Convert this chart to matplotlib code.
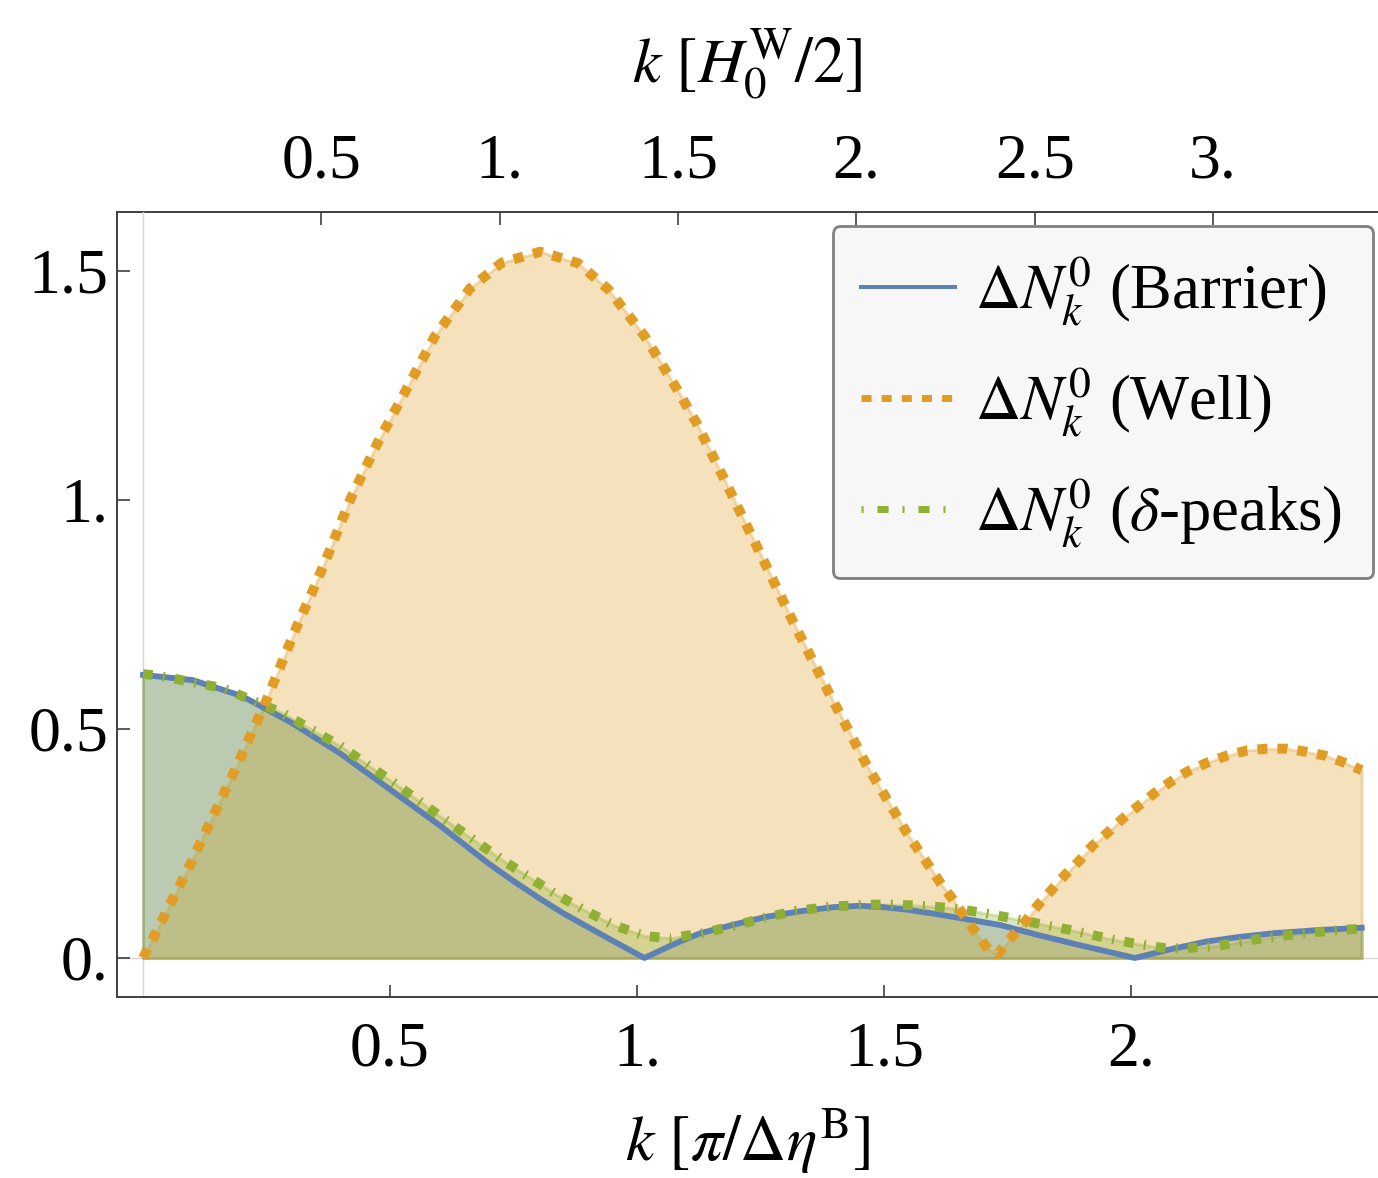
import matplotlib
matplotlib.use("Agg")
import matplotlib.pyplot as plt
from matplotlib.lines import Line2D

plt.rcParams["font.family"] = ["Liberation Serif", "DejaVu Serif"]
plt.rcParams["mathtext.fontset"] = "stix"

# Wavenumber k in units of pi / Delta eta^B, and particle number Delta N_k^0
k_barrier = [0.0, 0.10, 0.20, 0.30, 0.40, 0.50, 0.60, 0.70, 0.75, 0.80, 0.85,
             0.90, 0.95, 1.015, 1.07, 1.128, 1.20, 1.262, 1.33, 1.397, 1.45,
             1.498, 1.55, 1.599, 1.66, 1.735, 1.816, 1.90, 2.008, 2.08, 2.153,
             2.22, 2.288, 2.38, 2.467]
dn_barrier = [0.618, 0.607, 0.572, 0.514, 0.446, 0.368, 0.290, 0.206, 0.168,
              0.132, 0.098, 0.068, 0.038, 0.0, 0.028, 0.054, 0.074, 0.090,
              0.102, 0.111, 0.114, 0.111, 0.105, 0.097, 0.086, 0.072, 0.049,
              0.027, 0.0, 0.019, 0.036, 0.046, 0.054, 0.061, 0.066]

k_well = [0.0, 0.095, 0.183, 0.25, 0.311, 0.345, 0.377, 0.422, 0.476, 0.525,
          0.591, 0.662, 0.726, 0.804, 0.881, 0.942, 1.016, 1.08, 1.121, 1.175,
          1.246, 1.316, 1.389, 1.465, 1.547, 1.616, 1.64, 1.664, 1.687, 1.711,
          1.73, 1.76, 1.787, 1.812, 1.839, 1.866, 1.895, 1.922, 1.953, 1.983,
          2.015, 2.045, 2.079, 2.114, 2.153, 2.194, 2.234, 2.275, 2.315, 2.356,
          2.396, 2.433, 2.467]
dn_well = [0.0, 0.203, 0.403, 0.563, 0.723, 0.805, 0.887, 1.007, 1.127, 1.225,
           1.358, 1.462, 1.518, 1.542, 1.517, 1.460, 1.357, 1.244, 1.167, 1.049,
           0.891, 0.734, 0.578, 0.421, 0.272, 0.161, 0.127, 0.089, 0.054, 0.019,
           0.008, 0.048, 0.081, 0.116, 0.148, 0.181, 0.212, 0.245, 0.274, 0.304,
           0.332, 0.358, 0.384, 0.407, 0.426, 0.442, 0.453, 0.457, 0.457, 0.450,
           0.441, 0.426, 0.410]

k_peaks = [0.0, 0.034, 0.163, 0.284, 0.399, 0.507, 0.615, 0.726, 0.834, 0.891,
           0.952, 1.016, 1.067, 1.131, 1.195, 1.259, 1.323, 1.391, 1.455, 1.495,
           1.563, 1.627, 1.693, 1.758, 1.822, 1.887, 1.951, 2.016, 2.072, 2.107,
           2.173, 2.238, 2.303, 2.369, 2.435, 2.467]
dn_peaks = [0.620, 0.616, 0.589, 0.534, 0.463, 0.383, 0.299, 0.215, 0.140,
            0.106, 0.072, 0.048, 0.043, 0.054, 0.070, 0.088, 0.103, 0.112,
            0.116, 0.117, 0.115, 0.110, 0.100, 0.087, 0.073, 0.059, 0.043,
            0.030, 0.021, 0.021, 0.026, 0.038, 0.048, 0.056, 0.062, 0.064]

x_ticks = [0.5, 1.0, 1.5, 2.0]
x_tick_labels = ["0.5", "1.", "1.5", "2."]
y_ticks = [0.0, 0.5, 1.0, 1.5]
y_tick_labels = ["0.", "0.5", "1.", "1.5"]
top_ticks = [0.5, 1.0, 1.5, 2.0, 2.5, 3.0]
top_tick_labels = ["0.5", "1.", "1.5", "2.", "2.5", "3."]
top_scale = 1.385  # k in H_0^W/2 units per k in pi/Delta eta^B units

labels = [r"$\Delta N_k^0$ (Barrier) ", r"$\Delta N_k^0$ (Well) ",
          r"$\Delta N_k^0$ ($\delta$-peaks) "]

blue = "#5E81B5"
orange = "#E19C24"
green = "#8FB032"
frame_col = "#404040"

W, H = 1378, 1178
fig = plt.figure(figsize=(W / 100, H / 100), dpi=100)
ax = fig.add_axes([117 / W, 1 - 997 / H, (W - 117) / W, (997 - 212) / H])
ax.set_xlim(-0.0526, 2.5)
ax.set_ylim(-0.0852, 1.6288)

# axis lines through the origin
ax.axhline(0, color="#d6d6d6", lw=1.0, zorder=0.5)
ax.axvline(0, color="#d6d6d6", lw=1.0, zorder=0.5)

# filled areas down to the axis
for kk, vv, c in [(k_barrier, dn_barrier, blue), (k_well, dn_well, orange),
                  (k_peaks, dn_peaks, green)]:
    rgb = matplotlib.colors.to_rgb(c)
    ax.fill_between(kk, 0, vv, facecolor=(*rgb, 0.3), edgecolor=(*rgb, 0.3),
                    lw=2.2, zorder=1)

ax.plot(k_barrier, dn_barrier, color=blue, lw=4.2, solid_joinstyle="round",
        zorder=3)
l_peaks, = ax.plot(k_peaks, dn_peaks, color=green, lw=7.0, zorder=4,
                   dash_capstyle="butt")
l_peaks.set_dashes([1.0, 1.05, 0.2, 1.05])
l_well, = ax.plot(k_well, dn_well, color=orange, lw=7.2, zorder=5,
                  dash_capstyle="butt")
l_well.set_dashes([1.0, 1.0])

# frame and ticks
for side in ["left", "bottom"]:
    ax.spines[side].set_color(frame_col)
    ax.spines[side].set_linewidth(1.4)
ax.spines["top"].set_visible(False)
ax.spines["right"].set_visible(False)

ax.set_xticks(x_ticks)
ax.set_xticklabels(x_tick_labels)
ax.set_yticks(y_ticks)
ax.set_yticklabels(y_tick_labels)
ax.tick_params(axis="x", direction="in", length=9, width=1.2, color=frame_col,
               labelsize=46, pad=18, top=False)
ax.tick_params(axis="y", direction="in", length=9, width=1.2, color=frame_col,
               labelsize=46, pad=6, right=False)
ax.set_xlabel(r"$k\ [\pi/\Delta\eta^{\mathrm{B}}]$", fontsize=46, labelpad=19)

sec = ax.secondary_xaxis("top", functions=(lambda x: x * top_scale,
                                           lambda x: x / top_scale))
sec.set_xticks(top_ticks)
sec.set_xticklabels(top_tick_labels)
sec.tick_params(direction="in", length=9, width=1.2, color=frame_col,
                labelsize=46, pad=15)
sec.spines["top"].set_color(frame_col)
sec.spines["top"].set_linewidth(1.4)
sec.set_xlabel(r"$k\ [H_0^{\mathrm{W}}/2]$", fontsize=46, labelpad=36)

# legend
h_barrier = Line2D([], [], color=blue, lw=2.9)
h_well = Line2D([], [], color=orange, lw=5.0, dash_capstyle="butt")
h_well.set_dashes([1.45, 1.45])
h_peaks = Line2D([], [], color=green, lw=5.0, dash_capstyle="butt")
h_peaks.set_dashes([0.3, 2.0, 1.6, 2.0])
leg = ax.legend([h_barrier, h_well, h_peaks], labels, fontsize=45,
                loc="upper right", bbox_to_anchor=(1373 / W, 1 - 226 / H),
                bbox_transform=fig.transFigure, borderaxespad=0,
                handlelength=1.5, handletextpad=0.33, labelspacing=0.6,
                borderpad=0.45, frameon=True, fancybox=True)
fr = leg.get_frame()
fr.set_boxstyle("round,pad=0,rounding_size=0.12")
fr.set_facecolor("#f7f7f7")
fr.set_edgecolor("#808080")
fr.set_linewidth(2.0)
fr.set_alpha(1.0)
leg.set_zorder(10)

fig.savefig("out.png", dpi=100)
